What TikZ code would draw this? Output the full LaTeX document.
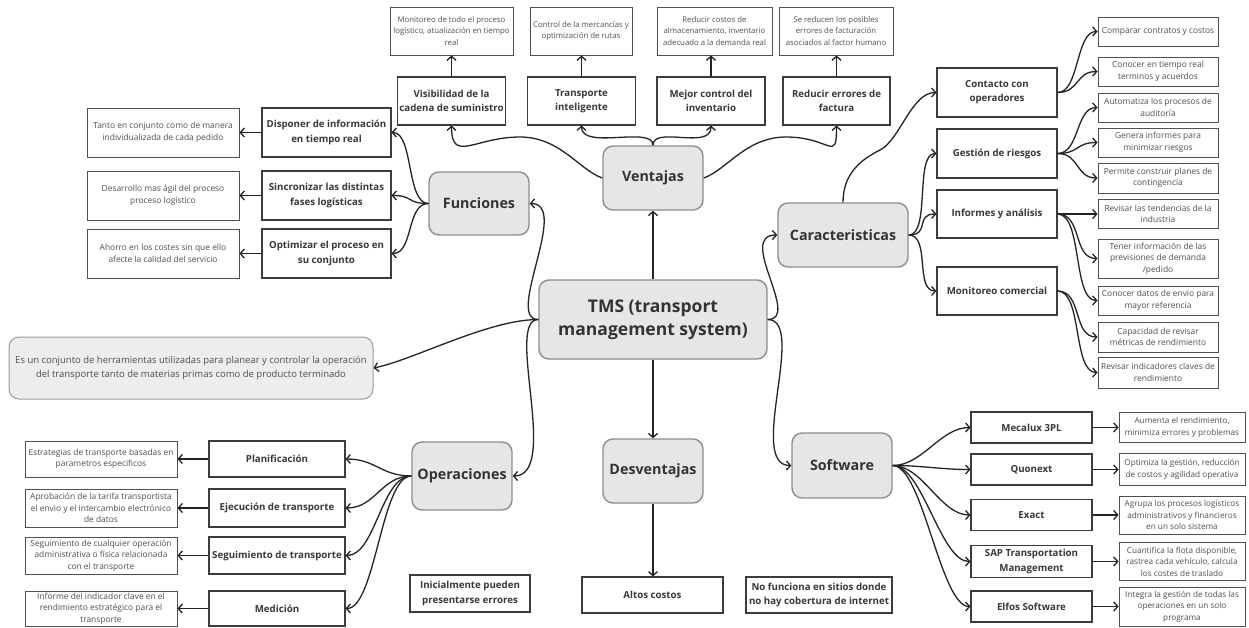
\documentclass[tikz,border=0pt]{standalone}
\usepackage{fontspec}
\setmainfont{Open Sans}
\usetikzlibrary{arrows.meta}

\definecolor{wire}{HTML}{242424}
\definecolor{hubfill}{HTML}{E6E6E6}
\definecolor{hubline}{HTML}{8E8E8E}
\definecolor{hubtext}{HTML}{333333}
\definecolor{itemline}{HTML}{3C3C3C}
\definecolor{itemtext}{HTML}{383838}
\definecolor{noteline}{HTML}{505050}
\definecolor{notetext}{HTML}{505050}
\definecolor{deffill}{HTML}{EDEDED}
\definecolor{defline}{HTML}{9A9A9A}

\tikzset{
  conn/.style={draw=wire, line width=1.3pt, -{Straight Barb[length=4pt,width=9pt]}},
  note/.style={draw=noteline, line width=0.9pt, fill=white, align=center, inner sep=1pt,
    text=notetext, font=\fontsize{8.4}{11.6}\selectfont},
  topnote/.style={note, font=\fontsize{7.8}{11.4}\selectfont},
  softnote/.style={note, font=\fontsize{8.2}{11.4}\selectfont},
  item/.style={draw=itemline, line width=1.1pt, fill=white, align=center, inner sep=1pt,
    text=itemtext, font=\bfseries\fontsize{9.7}{14.2}\selectfont},
  hub/.style={draw=hubline, line width=1.4pt, fill=hubfill, rounded corners=10pt, align=center,
    text=hubtext, font=\bfseries\fontsize{14.3}{17}\selectfont},
  wh/.style 2 args={minimum width=#1pt, minimum height=#2pt},
}

\begin{document}
\begin{tikzpicture}[x=1pt,y=1pt]
\fill[white] (0,0) rectangle (1249,-627);
\useasboundingbox (0,0) rectangle (1249,-627);

% ---------- central hubs ----------
\node[hub, wh={228}{79}, font=\bfseries\fontsize{17.5}{23}\selectfont] (tms) at (653,-319.5) {TMS (transport\\management system)};
\node[hub, wh={100}{64}] (ven) at (653,-178) {Ventajas};
\node[hub, wh={100}{63}] (fun) at (479,-203.5) {Funciones};
\node[hub, wh={100}{64}] (des) at (653,-471) {Desventajas};
\node[hub, wh={130}{64}] (car) at (843,-235) {Caracteristicas};
\node[hub, wh={100}{65}] (sof) at (842,-465.5) {Software};
\node[hub, wh={100}{68}] (ope) at (462,-476) {Operaciones};

\node[draw=defline, line width=1pt, fill=deffill, rounded corners=10pt, align=center,
  text=notetext, font=\fontsize{9.5}{14.5}\selectfont, wh={364}{62}] (def) at (191,-368)
  {Es un conjunto de herramientas utilizadas para planear y controlar la operación\\del transporte tanto de materias primas como de producto terminado};

% ---------- Ventajas ----------
\node[topnote, wh={123}{48}] (t1) at (451.5,-31) {Monitoreo de todo el proceso\\logístico, atualización en tiempo\\real};
\node[topnote, wh={102}{48}] (t2) at (581,-31) {Control de la mercancías y\\optimización de rutas};
\node[topnote, wh={115}{48}] (t3) at (714.5,-31) {Reducir costos de\\almacenamiento, inventario\\adecuado a la demanda real};
\node[topnote, wh={114}{48}] (t4) at (836,-31) {Se reducen los posibles\\errores de facturación\\asociados al factor humano};

\node[item, wh={108}{48}] (vis) at (451.5,-101) {Visibilidad de la\\cadena de suministro};
\node[item, wh={108}{48}] (tra) at (581.5,-101) {Transporte\\inteligente};
\node[item, wh={108}{48}] (inv) at (711,-101) {Mejor control del\\inventario};
\node[item, wh={107}{48}] (fac) at (836.5,-101) {Reducir errores de\\factura};

% ---------- Funciones ----------
\node[item, wh={129}{49}] (dis) at (326.5,-132.5) {Disponer de información\\en tiempo real};
\node[note, wh={152}{49}] (tan) at (163,-132.5) {Tanto en conjunto como de manera\\individualizada de cada pedido};
\node[item, wh={129}{49}] (sin) at (326.5,-195.5) {Sincronizar las distintas\\fases logísticas};
\node[note, wh={152}{49}] (agi) at (163,-195.5) {Desarrollo mas ágil del proceso\\proceso logístico};
\node[item, wh={129}{49}] (opt) at (326.5,-253.5) {Optimizar el proceso en\\su conjunto};
\node[note, wh={152}{49}] (aho) at (163,-253.5) {Ahorro en los costes sin que ello\\afecte la calidad del servicio};

% ---------- Operaciones ----------
\node[item, wh={136}{36}] (pla) at (277,-459) {Planificación};
\node[note, wh={152}{36}] (est) at (101,-459) {Estrategias de transporte basadas en\\parametros especificos};
\node[item, wh={136}{38}] (eje) at (277,-508) {Ejecución de transporte};
\node[note, wh={152}{38}] (apr) at (101,-508) {Aprobación de la tarifa transportista\\el envio y el intercambio electrónico\\de datos};
\node[item, wh={136}{37}] (seg) at (277,-555.5) {Seguimiento de transporte};
\node[note, wh={152}{37}] (cua) at (101,-555.5) {Seguimiento de cualquier operación\\administrativa o física relacionada\\con el transporte};
\node[item, wh={136}{35}] (med) at (277,-608.5) {Medición};
\node[note, wh={152}{35}] (ind) at (101,-608.5) {Informe del indicador clave en el\\rendimiento estratégico para el\\transporte};

% ---------- Desventajas ----------
\node[item, wh={120}{37}] (ini) at (470,-593.5) {Inicialmente pueden\\presentarse errores};
\node[item, wh={141}{36}] (alt) at (652.5,-595) {Altos costos};
\node[item, wh={146}{36}] (nof) at (819,-595) {No funciona en sitios donde\\no hay cobertura de internet};

% ---------- Caracteristicas ----------
\node[item, wh={120}{49}] (con) at (997,-92.5) {Contacto con\\operadores};
\node[item, wh={120}{49}] (ges) at (997,-153.5) {Gestión de riesgos};
\node[item, wh={120}{48}] (inf) at (997,-214) {Informes y análisis};
\node[item, wh={120}{48}] (mon) at (997,-291) {Monitoreo comercial};

\node[note, wh={120}{29}] (cmp) at (1158,-31.5) {Comparar contratos y costos};
\node[note, wh={120}{29}] (ctr) at (1158,-71.5) {Conocer en tiempo real\\terminos y acuerdos};
\node[note, wh={120}{29}] (aut) at (1158,-107.5) {Automatiza los procesos de\\auditoría};
\node[note, wh={120}{29}] (gen) at (1158,-142.5) {Genera informes para\\minimizar riesgos};
\node[note, wh={120}{30}] (per) at (1158,-178) {Permite construir planes de\\contingencia};
\node[note, wh={120}{29}] (rev) at (1158,-214) {Revisar las tendencias de la\\industria};
\node[note, wh={120}{39}] (ten) at (1158,-258.5) {Tener información de las\\previsiones de demanda\\/pedido};
\node[note, wh={120}{29}] (cda) at (1158,-300.5) {Conocer datos de envío para\\mayor referencia};
\node[note, wh={120}{30}] (cap) at (1158,-337) {Capacidad de revisar\\métricas de rendimiento};
\node[note, wh={120}{31}] (rid) at (1158,-372.5) {Revisar indicadores claves de\\rendimiento};

% ---------- Software ----------
\node[item, wh={121}{31}] (mec) at (1031.5,-427.5) {Mecalux 3PL};
\node[item, wh={121}{31}] (quo) at (1031.5,-469.5) {Quonext};
\node[item, wh={121}{31}] (exa) at (1031.5,-515) {Exact};
\node[item, wh={121}{32}] (sap) at (1031.5,-561.5) {SAP Transportation\\Management};
\node[item, wh={121}{31}] (elf) at (1031.5,-606.5) {Elfos Software};

\node[softnote, wh={126}{30}] (aum) at (1182,-427.5) {Aumenta el rendimiento,\\minimiza errores y problemas};
\node[softnote, wh={126}{32}] (opz) at (1182,-469.5) {Optimiza la gestión, reducción\\de costos y agilidad operativa};
\node[softnote, wh={126}{38}] (agr) at (1182,-515) {Agrupa los procesos logísticos\\administrativos y financieros\\en un solo sistema};
\node[softnote, wh={126}{38}] (cuf) at (1182,-561.5) {Cuantifica la flota disponible,\\rastrea cada vehículo, calcula\\los costes de traslado};
\node[softnote, wh={126}{39}] (itg) at (1182,-606.5) {Integra la gestión de todas las\\operaciones en un solo\\programa};

% ---------- connectors: hub level ----------
\draw[conn] (tms.north) -- (ven.south);
\draw[conn] (tms.south) -- (des.north);
\draw[conn] (des.south) -- (des.south |- alt.north);
\draw[conn] (tms.west) .. controls +(-34,0) and +(41,0) .. (fun.east);
\draw[conn] (tms.west) .. controls +(-34,0) and +(48,0) .. (ope.east);
\draw[conn] (tms.west) .. controls +(-50,0) and +(40,8) .. (def.east);
\draw[conn] (tms.east) .. controls +(34,0) and +(-41,0) .. (car.west);
\draw[conn] (tms.east) .. controls +(40,0) and +(-45,0) .. (sof.west);

% ---------- connectors: Ventajas ----------
\coordinate (vl) at (520,-137);
\coordinate (vr) at (786,-137);
\draw[conn] (ven.west) .. controls +(-23,8) and +(40,0) .. (vl) .. controls +(-45,0) and +(0,-38) .. (vis.south);
\draw[conn] (ven.east) .. controls +(23,8) and +(-40,0) .. (vr) .. controls +(45,0) and +(0,-38) .. (fac.south);
\draw[conn] (ven.north) .. controls +(0,20) and +(0,-25) .. (tra.south);
\draw[conn] (ven.north) .. controls +(0,20) and +(0,-25) .. (inv.south);
\draw[conn] (vis.north) -- (vis.north |- t1.south);
\draw[conn] (tra.north) -- (tra.north |- t2.south);
\draw[conn] (inv.north) -- (inv.north |- t3.south);
\draw[conn] (fac.north) -- (fac.north |- t4.south);

% ---------- connectors: Funciones ----------
\foreach \b in {dis,sin,opt}
  \draw[conn] (fun.west) .. controls +(-22,0) and +(22,0) .. (\b.east);
\draw[conn] (dis.west) -- (tan.east);
\draw[conn] (sin.west) -- (agi.east);
\draw[conn] (opt.west) -- (aho.east);

% ---------- connectors: Operaciones ----------
\foreach \b in {pla,eje,seg,med}
  \draw[conn] (ope.west) .. controls +(-30,0) and +(30,0) .. (\b.east);
\draw[conn] (pla.west) -- (est.east);
\draw[conn] (eje.west) -- (apr.east);
\draw[conn] (seg.west) -- (cua.east);
\draw[conn] (med.west) -- (ind.east);

% ---------- connectors: Caracteristicas ----------
\coordinate (cw) at (880,-150);
\draw[conn] (car.north) .. controls +(0,28) and +(-20,-10) .. (cw) .. controls +(20,10) and +(-25,0) .. (con.west);
\foreach \b in {ges,inf,mon}
  \draw[conn] (car.east) .. controls +(22,0) and +(-22,0) .. (\b.west);
\foreach \b in {cmp,ctr}
  \draw[conn] (con.east) .. controls +(22,0) and +(-22,0) .. (\b.west);
\foreach \b in {aut,gen,per}
  \draw[conn] (ges.east) .. controls +(22,0) and +(-22,0) .. (\b.west);
\draw[conn] (inf.east) -- (rev.west);
\foreach \b in {ten,cda}
  \draw[conn] (inf.east) .. controls +(25,0) and +(-25,0) .. (\b.west);
\foreach \b in {cap,rid}
  \draw[conn] (mon.east) .. controls +(25,0) and +(-25,0) .. (\b.west);

% ---------- connectors: Software ----------
\foreach \b in {mec,quo,exa,sap,elf}
  \draw[conn] (sof.east) .. controls +(30,0) and +(-30,0) .. (\b.west);
\draw[conn] (mec.east) -- (aum.west);
\draw[conn] (quo.east) -- (opz.west);
\draw[conn] (exa.east) -- (agr.west);
\draw[conn] (sap.east) -- (cuf.west);
\draw[conn] (elf.east) -- (itg.west);
\end{tikzpicture}
\end{document}
